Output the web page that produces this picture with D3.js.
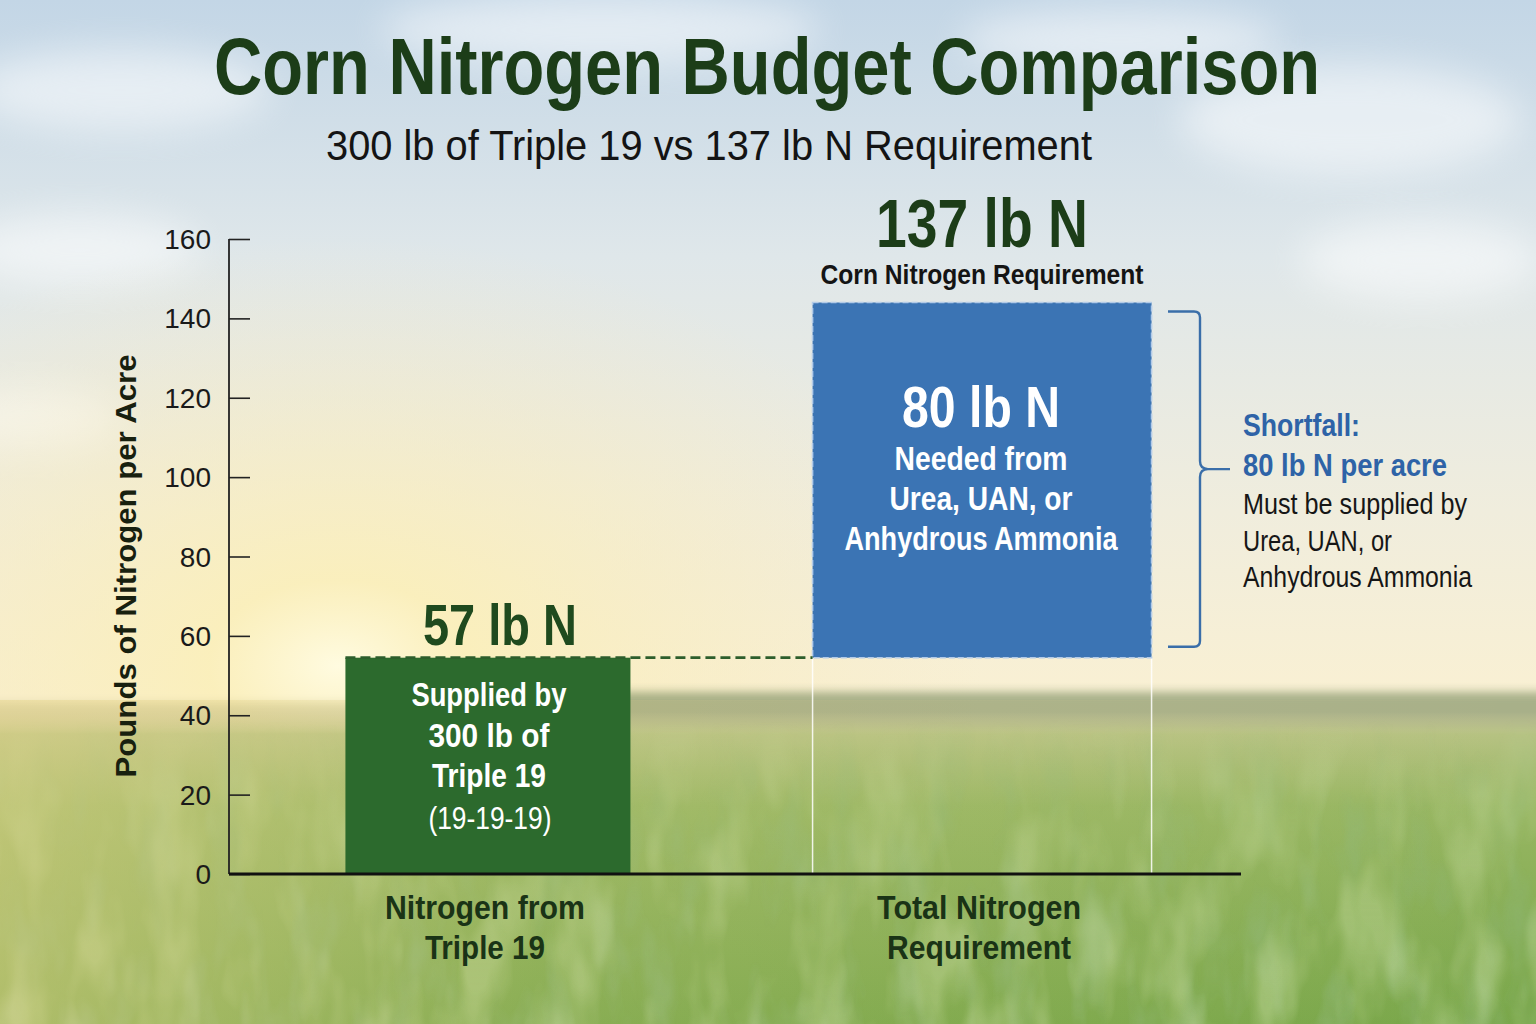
<!DOCTYPE html>
<html>
<head>
<meta charset="utf-8">
<script src="https://cdn.jsdelivr.net/npm/d3@7/dist/d3.min.js"></script>
<style>
  html, body { margin: 0; padding: 0; background: #dfe6e6; }
  svg { display: block; }
  text { font-family: 'Liberation Sans', Arial, sans-serif; }
</style>
</head>
<body>
<div id="chart"></div>
<script>
// chart values
const categories = ["Nitrogen from Triple 19", "Total Nitrogen Requirement"];
const categoryLines = [["Nitrogen from", "Triple 19"], ["Total Nitrogen", "Requirement"]];
const barTops = [54.5, 144];          // where the bars are drawn against the axis
const valueLabels = ["57 lb N", "137 lb N"];
const yTicks = [0, 20, 40, 60, 80, 100, 120, 140, 160];
const greenLines = ["Supplied by", "300 lb of", "Triple 19"];
const blueLines = ["Needed from", "Urea, UAN, or", "Anhydrous Ammonia"];
const noteLines = ["Must be supplied by", "Urea, UAN, or", "Anhydrous Ammonia"];

const W = 1536, H = 1024;
const darkGreen = "#1c3d18";
const barGreen = "#2c6a2d";
const barBlue = "#3b74b4";
const textBlue = "#2e63a7";

const svg = d3.select("#chart")
    .append("svg")
    .attr("width", W)
    .attr("height", H);

const defs = svg.append("defs");

// --- background: sky, sun glow, tree line, corn field ---
const sky = defs.append("linearGradient").attr("id", "sky").attr("x1", 0).attr("y1", 0).attr("x2", 0).attr("y2", 1);
sky.append("stop").attr("offset", "0%").attr("stop-color", "#c3d6e6");
sky.append("stop").attr("offset", "25%").attr("stop-color", "#dfe7ea");
sky.append("stop").attr("offset", "50%").attr("stop-color", "#f0eddd");
sky.append("stop").attr("offset", "68%").attr("stop-color", "#f9f0d3");
sky.append("stop").attr("offset", "100%").attr("stop-color", "#f9f0d3");

const sun = defs.append("radialGradient").attr("id", "sun")
    .attr("cx", 0.22).attr("cy", 0.65).attr("r", 0.42);
sun.append("stop").attr("offset", "0%").attr("stop-color", "#fffbe0").attr("stop-opacity", 1);
sun.append("stop").attr("offset", "20%").attr("stop-color", "#fbefb8").attr("stop-opacity", 0.85);
sun.append("stop").attr("offset", "100%").attr("stop-color", "#f6e9c4").attr("stop-opacity", 0);

const field = defs.append("linearGradient").attr("id", "field").attr("x1", 0).attr("y1", 0).attr("x2", 0).attr("y2", 1);
field.append("stop").attr("offset", "0%").attr("stop-color", "#cfcd98").attr("stop-opacity", 0);
field.append("stop").attr("offset", "7%").attr("stop-color", "#b6c282");
field.append("stop").attr("offset", "30%").attr("stop-color", "#97b662");
field.append("stop").attr("offset", "100%").attr("stop-color", "#79a74a");

const fieldSide = defs.append("linearGradient").attr("id", "fieldSide").attr("x1", 0).attr("y1", 0).attr("x2", 1).attr("y2", 0);
fieldSide.append("stop").attr("offset", "0%").attr("stop-color", "#e6d48a").attr("stop-opacity", 0.5);
fieldSide.append("stop").attr("offset", "35%").attr("stop-color", "#e6d48a").attr("stop-opacity", 0.15);
fieldSide.append("stop").attr("offset", "100%").attr("stop-color", "#e6d48a").attr("stop-opacity", 0);

// texture fades in below the horizon
const fade = defs.append("linearGradient").attr("id", "fade").attr("x1", 0).attr("y1", 0).attr("x2", 0).attr("y2", 1);
fade.append("stop").attr("offset", "0%").attr("stop-color", "#fff").attr("stop-opacity", 0);
fade.append("stop").attr("offset", "25%").attr("stop-color", "#fff").attr("stop-opacity", 0.6);
fade.append("stop").attr("offset", "100%").attr("stop-color", "#fff").attr("stop-opacity", 1);
defs.append("mask").attr("id", "fadeMask")
    .append("rect").attr("x", 0).attr("y", 720).attr("width", W).attr("height", H - 720).attr("fill", "url(#fade)");

const blur = defs.append("filter").attr("id", "blur").attr("x", "-20%").attr("y", "-50%").attr("width", "140%").attr("height", "200%");
blur.append("feGaussianBlur").attr("stdDeviation", 5);

const cloudBlur = defs.append("filter").attr("id", "cloudBlur").attr("x", "-50%").attr("y", "-50%").attr("width", "200%").attr("height", "200%");
cloudBlur.append("feGaussianBlur").attr("stdDeviation", 18);

// foliage texture: stretched noise, tinted in light and dark greens
function foliage(id, freq, seed, r, g, b, a, k) {
    const f = defs.append("filter").attr("id", id).attr("x", 0).attr("y", 0).attr("width", "100%").attr("height", "100%");
    f.append("feTurbulence").attr("type", "fractalNoise").attr("baseFrequency", freq).attr("numOctaves", 3).attr("seed", seed);
    f.append("feColorMatrix").attr("type", "matrix")
        .attr("values", `0 0 0 0 ${r}  0 0 0 0 ${g}  0 0 0 0 ${b}  0 0 0 ${a} ${k}`);
    f.append("feComposite").attr("in2", "SourceGraphic").attr("operator", "in");
}
foliage("leavesLight", "0.02 0.008", 3, 0.72, 0.84, 0.50, -3.5, 1.9);
foliage("leavesDark", "0.028 0.01", 11, 0.28, 0.48, 0.20, 3.2, -1.5);

const bg = svg.append("g");
bg.append("rect").attr("width", W).attr("height", H).attr("fill", "url(#sky)");

// soft clouds
const clouds = [[120, 90, 150, 40], [1350, 120, 170, 55], [1420, 260, 120, 40], [80, 250, 120, 35], [600, 30, 220, 35], [1120, 40, 160, 30], [30, 420, 90, 30]];
bg.selectAll("ellipse.cloud").data(clouds).join("ellipse")
    .attr("class", "cloud")
    .attr("cx", d => d[0]).attr("cy", d => d[1]).attr("rx", d => d[2]).attr("ry", d => d[3])
    .attr("fill", "#ffffff").attr("opacity", 0.5)
    .attr("filter", "url(#cloudBlur)");

bg.append("rect").attr("width", W).attr("height", H).attr("fill", "url(#sun)");

// tree line on the horizon
bg.append("rect").attr("x", 600).attr("y", 692).attr("width", 960).attr("height", 44)
    .attr("fill", "#7d8e62").attr("opacity", 0.65).attr("filter", "url(#blur)");
bg.append("rect").attr("x", -20).attr("y", 704).attr("width", 380).attr("height", 30)
    .attr("fill", "#aeae80").attr("opacity", 0.45).attr("filter", "url(#blur)");

bg.append("rect").attr("x", 0).attr("y", 712).attr("width", W).attr("height", H - 712)
    .attr("fill", "url(#field)");
const tex = bg.append("g").attr("mask", "url(#fadeMask)");
tex.append("rect").attr("x", 0).attr("y", 720).attr("width", W).attr("height", H - 720)
    .attr("fill", "#fff").attr("filter", "url(#leavesDark)").attr("opacity", 0.55);
tex.append("rect").attr("x", 0).attr("y", 720).attr("width", W).attr("height", H - 720)
    .attr("fill", "#fff").attr("filter", "url(#leavesLight)").attr("opacity", 0.35);
bg.append("rect").attr("x", 0).attr("y", 700).attr("width", W).attr("height", H - 700)
    .attr("fill", "url(#fieldSide)");

// --- scales ---
const y = d3.scaleLinear().domain([0, 160]).range([874, 239]);
const x = d3.scalePoint().domain(categories).range([229, 1241]).padding(0.524);
const barWidth = { [categories[0]]: 285, [categories[1]]: 339 };

// text helper: condensed look by fitting each line to its width in the picture
function label(g, t, xp, yp, size, weight, fill, width, anchor) {
    const el = g.append("text")
        .attr("x", xp).attr("y", yp)
        .attr("text-anchor", anchor || "middle")
        .attr("font-size", size).attr("font-weight", weight)
        .attr("fill", fill)
        .text(t);
    if (width) el.attr("textLength", width).attr("lengthAdjust", "spacingAndGlyphs");
    return el;
}

// --- titles ---
label(svg, "Corn Nitrogen Budget Comparison", 767, 94, 79, "bold", darkGreen, 1106);
label(svg, "300 lb of Triple 19 vs 137 lb N Requirement", 709, 160, 42, "normal", "#141414", 766);

// --- axes ---
const yAxis = d3.axisRight(y).tickValues(yTicks).tickSize(21).tickFormat("");
const gy = svg.append("g").attr("transform", "translate(229,0)").call(yAxis);
gy.select(".domain").remove();
gy.selectAll(".tick line").attr("stroke", "#222").attr("stroke-width", 1.6);
svg.append("line").attr("x1", 229).attr("x2", 229).attr("y1", y(160)).attr("y2", y(0))
    .attr("stroke", "#222").attr("stroke-width", 1.8);

svg.append("g").selectAll("text").data(yTicks).join("text")
    .attr("x", 211).attr("y", d => y(d) + 10)
    .attr("text-anchor", "end")
    .attr("font-size", 28)
    .attr("fill", "#1a1a1a")
    .text(d => d);

svg.append("text")
    .attr("transform", "translate(136,566) rotate(-90)")
    .attr("text-anchor", "middle")
    .attr("font-size", 30).attr("font-weight", "bold")
    .attr("fill", "#18200f")
    .attr("textLength", 423).attr("lengthAdjust", "spacingAndGlyphs")
    .text("Pounds of Nitrogen per Acre");

// --- bars ---
const supplied = categories[0], total = categories[1];
const gx = c => x(c) - barWidth[c] / 2;

// outline of the total requirement below the shortfall block
[gx(total), gx(total) + barWidth[total]].forEach(px => {
    svg.append("line").attr("x1", px).attr("x2", px)
        .attr("y1", y(barTops[0])).attr("y2", y(0))
        .attr("stroke", "#ffffff").attr("stroke-opacity", 0.85).attr("stroke-width", 1.5);
});

svg.append("rect")
    .attr("x", gx(supplied)).attr("y", y(barTops[0]))
    .attr("width", barWidth[supplied]).attr("height", y(0) - y(barTops[0]))
    .attr("fill", barGreen);

svg.append("rect")
    .attr("x", gx(total)).attr("y", y(barTops[1]))
    .attr("width", barWidth[total]).attr("height", y(barTops[0]) - y(barTops[1]))
    .attr("fill", barBlue)
    .attr("stroke", "#b3cbe8").attr("stroke-width", 1.6).attr("stroke-dasharray", "6 3");

// dashed level line from the supplied amount across to the shortfall block
svg.append("line")
    .attr("x1", gx(supplied)).attr("x2", gx(total))
    .attr("y1", y(barTops[0])).attr("y2", y(barTops[0]))
    .attr("stroke", "#2d5e2c").attr("stroke-width", 2.8).attr("stroke-dasharray", "10 5");

svg.append("line").attr("x1", 229).attr("x2", 1241).attr("y1", y(0)).attr("y2", y(0))
    .attr("stroke", "#111").attr("stroke-width", 3);

// --- labels ---
const lg = svg.append("g");
label(lg, valueLabels[0], 500, 645, 58, "bold", "#1f4a1e", 154);
label(lg, valueLabels[1], 982, 247, 68, "bold", darkGreen, 212);
label(lg, "Corn Nitrogen Requirement", 982, 284, 28, "bold", "#141414", 323);

const greenW = [155, 121, 114];
greenLines.forEach((t, i) => label(lg, t, x(supplied) + 1, 706 + i * 40.5, 34, "bold", "#ffffff", greenW[i]));
label(lg, "(19-19-19)", x(supplied) + 2, 829, 31, "normal", "#ffffff", 123);

label(lg, "80 lb N", 981, 427, 58, "bold", "#ffffff", 158);
const blueW = [173, 183, 273];
blueLines.forEach((t, i) => label(lg, t, 981, 470 + i * 40, 33, "bold", "#ffffff", blueW[i]));

const catW = [[200, 120], [204, 184]];
categories.forEach((c, i) => {
    categoryLines[i].forEach((t, j) =>
        label(lg, t, x(c) - 3, 919 + j * 40, 33, "bold", "#1a3316", catW[i][j]));
});

// --- shortfall bracket and note ---
const bTop = y(barTops[1]) + 9, bBot = y(barTops[0]) - 11, bMid = (bTop + bBot) / 2 - 10;
svg.append("path")
    .attr("d", `M1168,${bTop} H1194 Q1200,${bTop} 1200,${bTop + 6} V${bMid - 8} Q1200,${bMid} 1208,${bMid} H1230
                M1208,${bMid} Q1200,${bMid} 1200,${bMid + 8} V${bBot - 6} Q1200,${bBot} 1194,${bBot} H1168`)
    .attr("fill", "none").attr("stroke", "#3a6ea9").attr("stroke-width", 2.4);

const shortW = [117, 204];
["Shortfall:", "80 lb N per acre"].forEach((t, i) =>
    label(lg, t, 1243, 436 + i * 40, 32, "bold", textBlue, shortW[i], "start"));
const noteW = [224, 149, 229];
noteLines.forEach((t, i) =>
    label(lg, t, 1243, 514 + i * 36.5, 29, "normal", "#161616", noteW[i], "start"));
</script>
</body>
</html>
